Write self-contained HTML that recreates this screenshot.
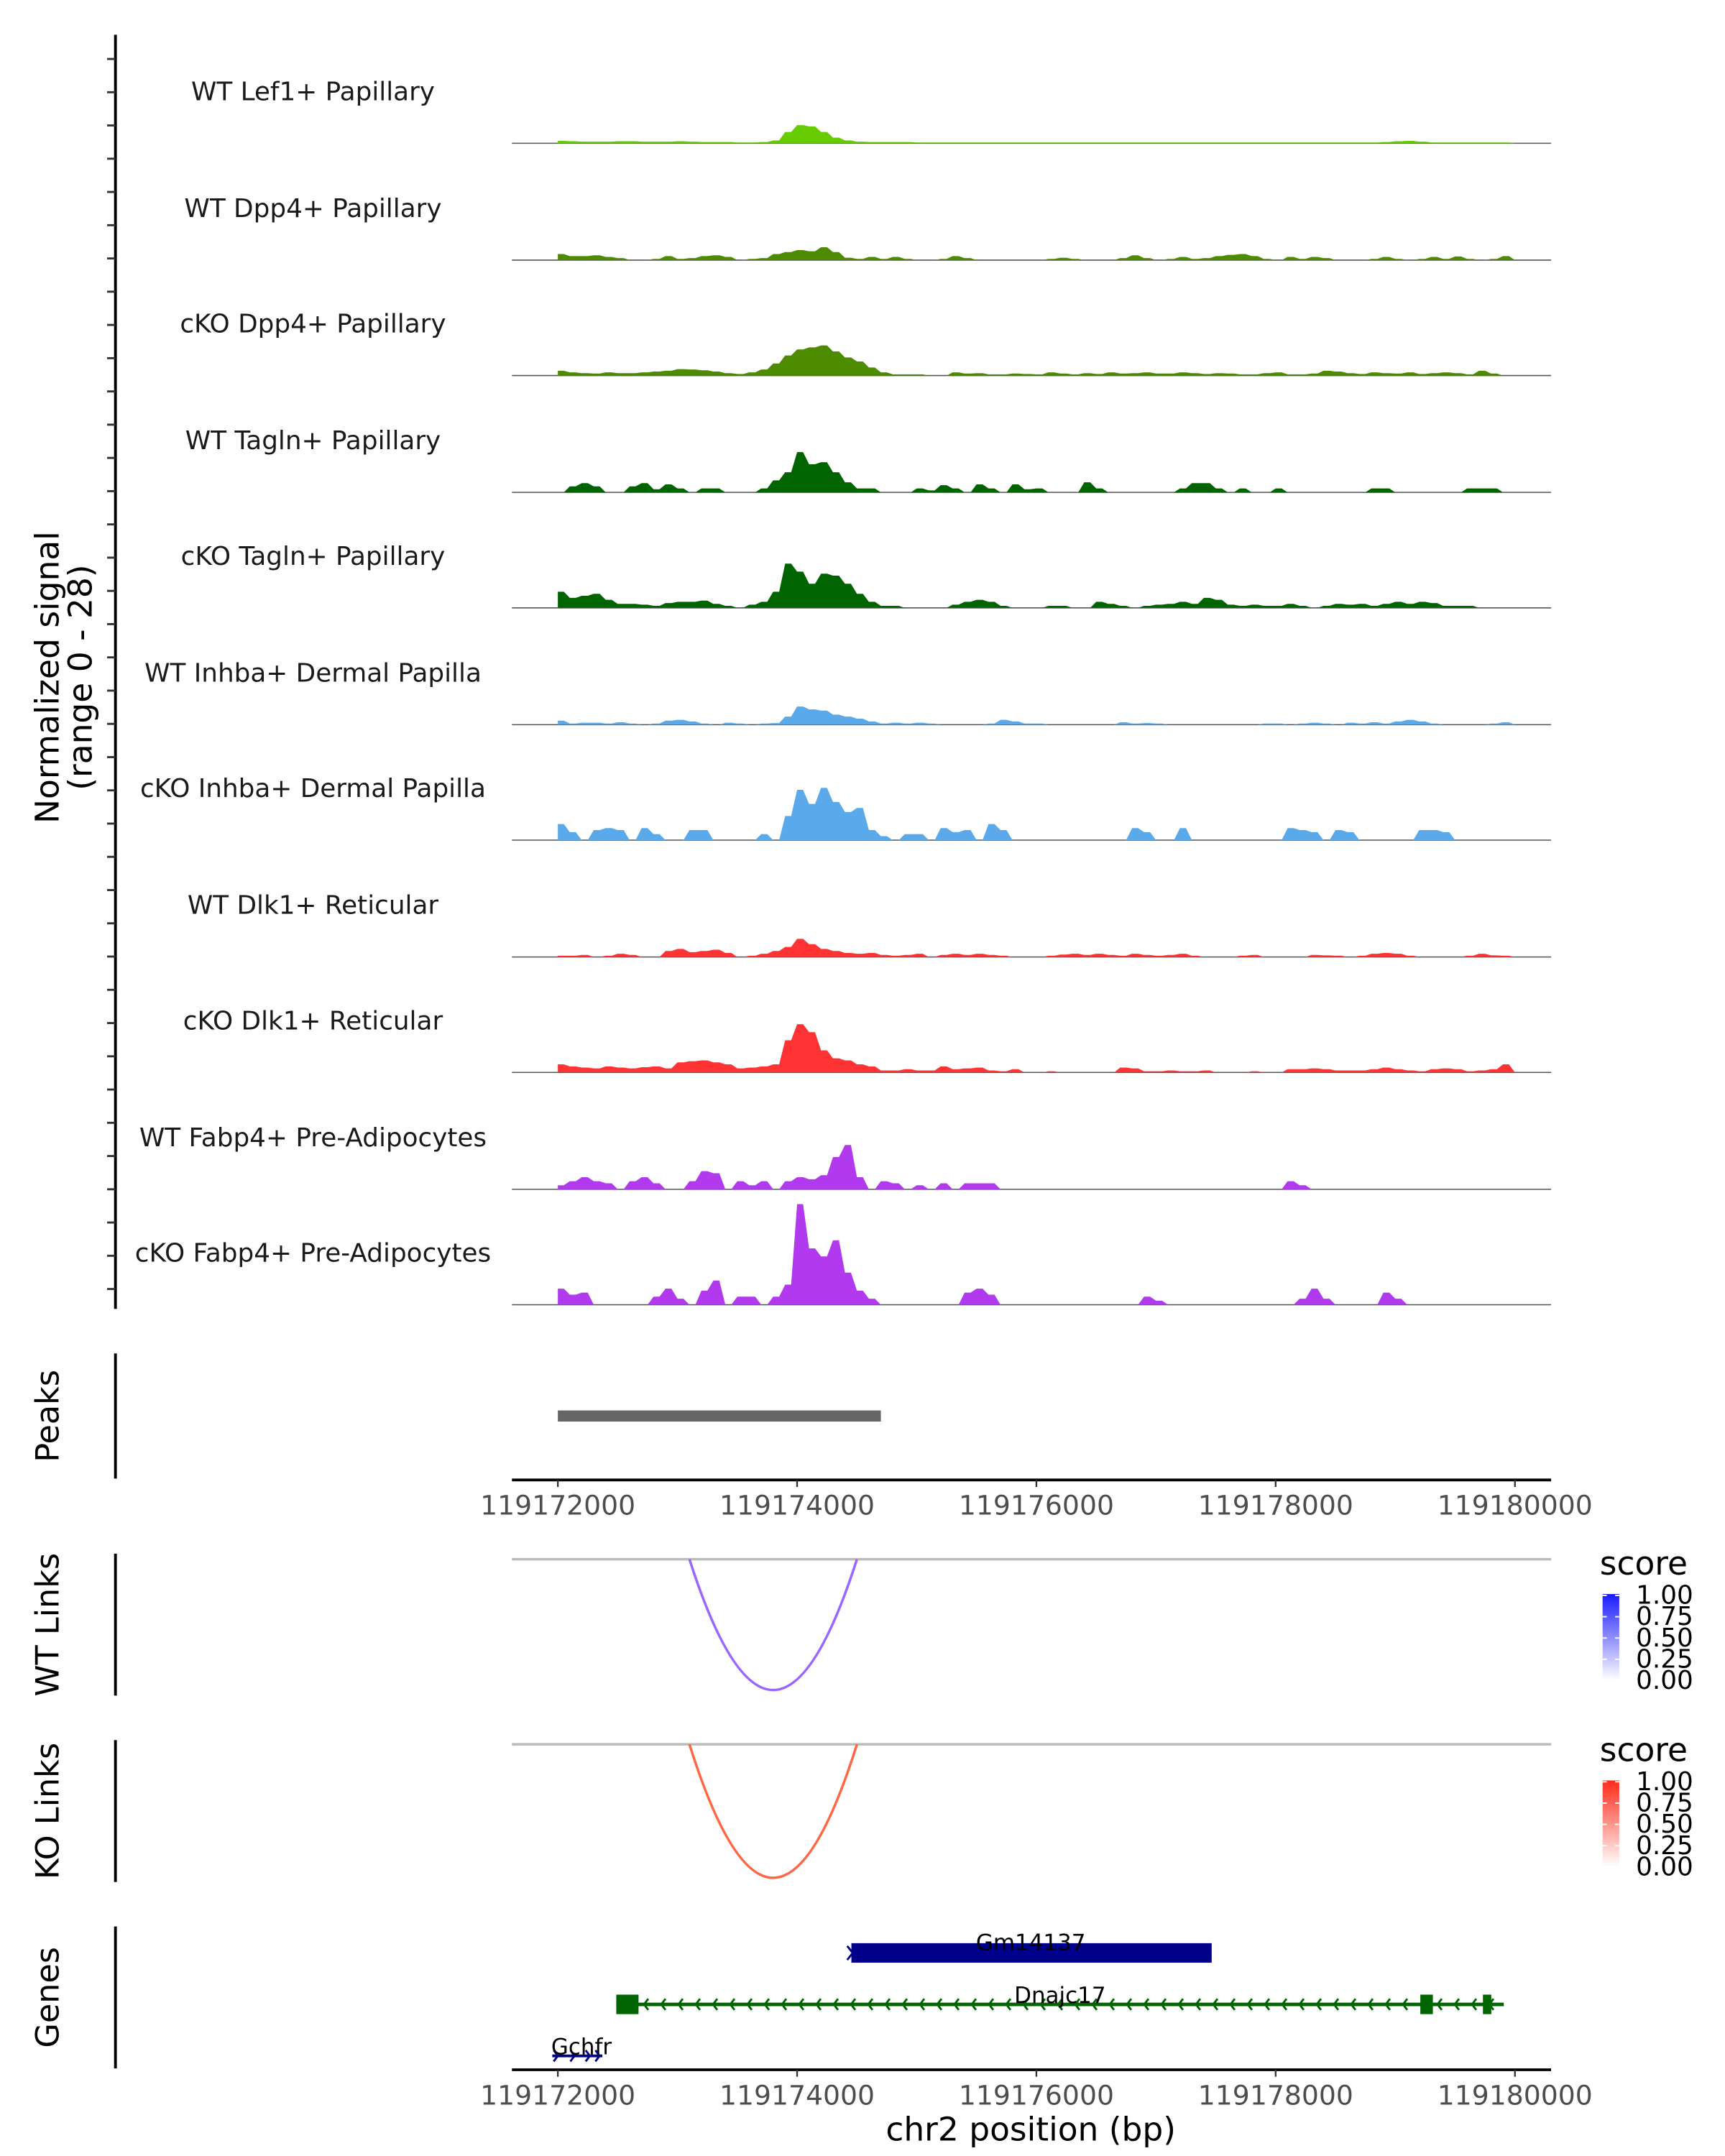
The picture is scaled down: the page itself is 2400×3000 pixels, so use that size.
<!DOCTYPE html>
<html><head><meta charset="utf-8"><style>
html,body{margin:0;padding:0;background:#fff;}
svg{display:block;font-family:"DejaVu Sans","Liberation Sans",sans-serif;}
</style></head><body>
<svg id="chart" width="2400" height="3000" viewBox="0 0 1240 1550" xmlns="http://www.w3.org/2000/svg">
<defs>
<linearGradient id="gBlue" x1="0" y1="1" x2="0" y2="0"><stop offset="0" stop-color="#ffffff"/><stop offset="1" stop-color="#1a1aff"/></linearGradient>
<linearGradient id="gRed" x1="0" y1="1" x2="0" y2="0"><stop offset="0" stop-color="#ffffff"/><stop offset="1" stop-color="#ff2a1a"/></linearGradient>
</defs>
<g id="tracks"></g>
<g id="axes"></g>
</svg>
<script>
const NS='http://www.w3.org/2000/svg';
const trackNames=["WT Lef1+ Papillary","WT Dpp4+ Papillary","cKO Dpp4+ Papillary","WT Tagln+ Papillary","cKO Tagln+ Papillary","WT Inhba+ Dermal Papilla","cKO Inhba+ Dermal Papilla","WT Dlk1+ Reticular","cKO Dlk1+ Reticular","WT Fabp4+ Pre-Adipocytes","cKO Fabp4+ Pre-Adipocytes"];
const trackColors=["#66cc00","#4d8c00","#4d8c00","#006400","#006400","#5aaaeb","#5aaaeb","#ff3333","#ff3333","#b23aee","#b23aee"];
const binStart=119172000, binSize=100;
const lef1=[0.6,0.5,0.4,0.4,0.4,0.5,0.5,0.4,0.4,0.4,0.5,0.4,0.3,0.3,0.3,0.2,0.2,0.3,0.7,2.8,4.5,4.2,2.8,1.4,0.7,0.4,0.3,0.3,0.3,0.3,0.2,0.2,0.2,0.2,0.2,0.2,0.2,0.2,0.2,0.2,0.2,0.2,0.2,0.2,0.2,0.2,0.2,0.2,0.2,0.2,0.2,0.2,0.2,0.2,0.2,0.2,0.2,0.2,0.2,0.2,0.2,0.2,0.2,0.2,0.2,0.2,0.2,0.2,0.2,0.3,0.5,0.6,0.4,0.2,0.2,0.2,0.2,0.2,0.2,0.2];
const dpp4wt=[1.5,1.0,1.0,1.2,0.8,0.5,0,0,0.3,1.0,0.3,0.5,1.0,1.2,0.8,0,0.3,0.5,1.5,2.0,2.5,2.2,3.2,2.0,0.6,0.3,0.8,0.3,0.8,0.3,0,0,0.3,1.0,0.5,0,0,0,0,0,0,0.3,0.6,0.3,0,0,0,0.5,1.2,0.5,0,0.3,0.8,0.3,0.5,1.0,1.3,1.5,1.0,0.3,0,0.8,0.3,0.8,0.5,0,0,0,0.3,0.8,0.3,0,0.3,0.8,0.3,0.9,0.3,0,0.3,1.0];
const dpp4ko=[1.2,0.8,0.6,0.5,0.8,0.6,0.6,0.8,1.0,1.2,1.6,1.5,1.3,1.0,0.6,0.4,0.8,1.5,3.0,5.0,6.5,7.0,7.5,6.0,4.5,3.5,2.0,0.8,0.3,0.3,0.3,0,0,0.8,0.5,0.6,0.3,0.3,0.5,0.4,0.3,0.8,0.5,0.3,0.6,0.4,0.8,0.5,0.6,0.8,0.5,0.5,0.8,0.6,0.4,0.6,0.5,0.3,0.3,0.6,0.8,0.3,0.3,0.5,1.2,1.0,0.6,0.4,0.8,0.6,0.5,0.8,0.4,0.6,0.8,0.6,0.3,1.2,0.5,0];
const taglnwt=[0,1.5,2.3,1.5,0,0,1.5,2.3,0.8,2.0,1.0,0,1.0,1.0,0,0,0,1.0,3.0,5.0,10,7.0,7.5,5.0,2.5,1.0,1.0,0,0,0,1.0,0.5,1.8,1.0,0,2.0,1.0,0,2.0,0.8,1.0,0,0,0,2.5,1.0,0,0,0,0,0,0,1.0,2.3,2.3,1.0,0,1.0,0,0,1.0,0,0,0,0,0,0,0,1.0,1.0,0,0,0,0,0,0,1.0,1.0,1.0,0];
const taglnko=[4.0,2.5,3.0,3.5,2.0,1.0,1.0,0.8,0.5,1.2,1.5,1.5,1.8,1.0,0.5,0,0.8,1.5,4.0,11,9.0,6.0,8.5,8.0,6.0,3.5,1.5,0.5,0.5,0,0,0,0,0.8,1.5,2.0,1.5,0.5,0,0,0,0.5,0.5,0,0,1.5,1.0,0.5,0,0.5,0.8,1.0,1.5,1.0,2.5,2.0,0.8,0.5,0.8,0.5,0.5,1.0,0.5,0,0.5,1.0,0.8,1.0,0.5,1.0,1.5,1.0,1.5,1.2,0.5,0.5,0.5,0,0,0];
const inhbawt=[1.0,0.3,0.5,0.5,0.3,0.6,0.3,0,0.3,1.0,1.2,0.8,0.3,0,0.5,0.3,0,0.3,0.4,2.0,4.5,3.8,3.5,2.5,2.0,1.5,0.8,0.3,0.5,0.3,0.5,0.3,0,0,0,0,0.3,1.2,0.8,0.3,0.3,0,0,0,0,0,0,0.6,0.3,0.4,0.3,0,0,0,0,0,0,0,0,0.3,0.3,0,0.3,0.5,0.3,0,0.5,0.3,0.6,0.3,0.8,1.2,0.8,0.3,0,0,0,0,0.3,0.6];
const inhbako=[4.0,2.0,0,2.5,3.0,2.5,0,3.0,1.5,0,0,2.5,2.5,0,0,0,0,1.5,0,6.0,12.5,9.0,13,9.5,7.0,8.0,2.5,1.0,0,1.5,1.5,0,3.0,2.0,2.5,0,4.0,2.5,0,0,0,0,0,0,0,0,0,0,3.0,2.0,0,0,3.0,0,0,0,0,0,0,0,0,3.0,2.5,2.0,0,2.5,2.0,0,0,0,0,0,2.5,2.5,2.0,0,0,0,0,0];
const dlk1wt=[0.3,0.3,0.5,0,0.3,0.8,0.5,0,0,1.5,2.0,1.2,1.5,1.8,1.0,0,0.3,0.8,1.5,2.5,4.5,3.2,2.0,1.5,1.0,0.8,1.0,0.5,0.3,0.5,0.8,0,0.5,0.8,0.5,0.8,0.5,0.3,0,0,0,0.3,0.6,0.8,0.5,0.8,0.5,0.3,0.8,0.5,0.3,0.5,0.8,0.3,0,0,0,0.3,0.5,0,0,0,0,0.5,0.4,0.3,0,0.3,0.8,1.0,0.8,0.3,0,0,0,0,0.3,0.8,0.4,0.3];
const dlk1ko=[2.0,1.5,1.2,1.0,1.5,1.2,1.0,1.3,1.5,1.0,2.5,2.8,3.0,2.5,2.0,1.0,1.2,1.5,2.0,8.0,12,10,5.5,3.5,3.0,2.0,1.5,0.5,0.5,0.8,0.5,0.5,1.5,0.8,1.0,1.2,0.5,0.3,0.8,0,0,0.3,0,0,0,0,0,1.2,1.0,0.3,0.3,0.5,0.3,0.3,0.5,0,0,0,0.3,0,0,0.8,0.8,1.0,0.8,0.5,0.5,0.5,0.8,1.2,0.8,0.5,0.3,0.8,1.0,0.8,0.3,0.5,0.8,2.0];
const fabp4wt=[1.0,2.0,3.0,2.0,1.5,0,2.0,3.0,1.5,0,0,2.0,4.5,4.0,0,2.0,1.0,2.0,0,2.0,3.0,2.5,3.5,8.0,11,3.0,0,2.0,1.5,0,1.0,0,1.5,0,1.5,1.5,1.5,0,0,0,0,0,0,0,0,0,0,0,0,0,0,0,0,0,0,0,0,0,0,0,0,2.0,1.0,0,0,0,0,0,0,0,0,0,0,0,0,0,0,0,0,0];
const fabp4ko=[4.0,2.5,3.0,0,0,0,0,0,2.0,4.0,1.5,0,3.5,6.0,0,2.0,2.0,0,2.0,5.0,25,14,12,16,8.0,3.5,1.5,0,0,0,0,0,0,0,3.0,4.0,2.5,0,0,0,0,0,0,0,0,0,0,0,0,2.0,1.0,0,0,0,0,0,0,0,0,0,0,0,1.5,4.0,1.5,0,0,0,0,3.0,1.5,0,0,0,0,0,0,0,0,0];
const trackData=[lef1,dpp4wt,dpp4ko,taglnwt,taglnko,inhbawt,inhbako,dlk1wt,dlk1ko,fabp4wt,fabp4ko];
const xTicks=[119172000,119174000,119176000,119178000,119180000];
const peakStarts=[119172000];
const peakEnds=[119174700];
const linkStarts=[119173100];
const linkEnds=[119174500];
const linkScoresWT=[0.6];
const linkScoresKO=[0.6];
const legendTicks=["1.00","0.75","0.50","0.25","0.00"];

function xs(p){return 401+(p-119172000)*0.086;}
const yMax=28, trackH=81;
function ys(v,base){return base-v/yMax*trackH;}
const baselines=[103,187,270,354,437,521,604,688,771,855,938];

const tg=document.getElementById('tracks');
const ag=document.getElementById('axes');
function mk(tag,attrs,parent,txt){const e=document.createElementNS(NS,tag);for(const k in attrs)e.setAttribute(k,attrs[k]);if(txt!==undefined)e.textContent=txt;parent.appendChild(e);return e;}

trackData.forEach((arr,t)=>{
  const base=baselines[t];
  const g=mk('g',{},tg);
  
  
  mk('line',{x1:368,x2:1115,y1:base,y2:base,stroke:'#555',"stroke-width":0.8},g);
  let d='M'+xs(binStart)+','+base;
  arr.forEach((v,i)=>{
    const x0=xs(binStart+i*binSize), x1=xs(binStart+(i+1)*binSize);
    d+=' L'+x0.toFixed(2)+','+ys(v,base).toFixed(2)+' L'+(x0+(x1-x0)*0.5).toFixed(2)+','+ys(v,base).toFixed(2);
  });
  d+=' L'+xs(binStart+arr.length*binSize)+','+base+' Z';
  const p=mk('path',{d:d,fill:trackColors[t],stroke:'none'},g);
  
  
  const lb=mk('text',{x:225,y:base-31,"text-anchor":"middle","font-size":"18.5",fill:"#1a1a1a"},g,trackNames[t]);
  
  
});

// left axis for signal
mk('line',{x1:83,x2:83,y1:25,y2:941,stroke:'#000',"stroke-width":2},ag);
for(let y=42.4;y<940;y+=23.9){mk('line',{x1:77,x2:83,y1:y,y2:y,stroke:'#333',"stroke-width":1.5},ag);}
let yt=mk('text',{x:0,y:0,"text-anchor":"middle","font-size":"23.5",fill:"#000",transform:"translate(42,487) rotate(-90)"},ag,"Normalized signal");


let yt2=mk('text',{x:0,y:0,"text-anchor":"middle","font-size":"23.5",fill:"#000",transform:"translate(66,487) rotate(-90)"},ag,"(range 0 - 28)");



// side panels
function sideAxis(y1,y2,label,cy,name){
  mk('line',{x1:83,x2:83,y1:y1,y2:y2,stroke:'#000',"stroke-width":2},ag);
  const t=mk('text',{x:0,y:0,"text-anchor":"middle","font-size":"23",fill:"#000",transform:"translate(42,"+cy+") rotate(-90)"},ag,label);
  
  
}
sideAxis(973,1063,"Peaks",1018,"peaks-title");
sideAxis(1117,1219,"WT Links",1168,"wt-links-title");
sideAxis(1251,1353,"KO Links",1302,"ko-links-title");
sideAxis(1385,1487,"Genes",1436,"genes-title");

// peaks
peakStarts.forEach((s,i)=>{
  const r=mk('rect',{x:xs(s),y:1014,width:xs(peakEnds[i])-xs(s),height:8,fill:'#666'},ag);
  
  
});

function xAxis(y,name){
  const g=mk('g',{},ag);
  
  
  mk('line',{x1:368,x2:1115,y1:y,y2:y,stroke:'#000',"stroke-width":2},g);
  xTicks.forEach(v=>{
    mk('line',{x1:xs(v),x2:xs(v),y1:y,y2:y+5,stroke:'#333',"stroke-width":1.2},g);
    mk('text',{x:xs(v),y:y+25,"text-anchor":"middle","font-size":"19.5",fill:"#4d4d4d"},g,String(v));
  });
}
xAxis(1064,'x-axis-peaks');
xAxis(1488,'x-axis-genes');
const xt=mk('text',{x:741,y:1539,"text-anchor":"middle","font-size":"23.5",fill:"#000"},ag,"chr2 position (bp)");



// links
function links(base,bottom,scores,colorHi,name){
  mk('line',{x1:368,x2:1115,y1:base,y2:base,stroke:'#bbb',"stroke-width":1.8},ag);
  linkStarts.forEach((s,i)=>{
    const a=xs(s), b=xs(linkEnds[i]);
    const col=colorHi(scores[i]);
    const cy=2*bottom-base;
    const p=mk('path',{d:'M'+a+','+base+' Q'+((a+b)/2)+','+cy+' '+b+','+base,fill:'none',stroke:col,"stroke-width":1.8},ag);
    
    
  });
}
links(1121,1215,linkScoresWT,s=>'#9966ff','wt-link-arc');
links(1254,1350,linkScoresKO,s=>'#ff6644','ko-link-arc');

// legends
function legend(y,grad,name){
  const g=mk('g',{},ag);
  
  
  mk('text',{x:1150,y:y+16,"font-size":"23.5",fill:"#000"},g,"score");
  mk('rect',{x:1152,y:y+30,width:12,height:62,fill:'url(#'+grad+')'},g);
  legendTicks.forEach((l,i)=>{
    const ty=y+31+i*15.3;
    mk('line',{x1:1152,x2:1155,y1:ty,y2:ty,stroke:'#fff'},g);
    mk('line',{x1:1161,x2:1164,y1:ty,y2:ty,stroke:'#fff'},g);
    mk('text',{x:1176,y:ty+6,"font-size":"18.5",fill:"#000"},g,l);
  });
}
legend(1116,'gBlue','wt-score-legend');
legend(1250,'gRed','ko-score-legend');

// genes
const gg=mk('g',{},ag);


let gm=mk('rect',{x:612,y:1397,width:259,height:14,fill:'#00008b'},gg);


mk('path',{d:'M609,1399 L613,1404 L609,1409',fill:'none',stroke:'#00008b',"stroke-width":1.5},gg);
mk('text',{x:741,y:1402,"text-anchor":"middle","font-size":"16",fill:"#000"},gg,"Gm14137");
let dn=mk('line',{x1:443,x2:1081,y1:1441,y2:1441,stroke:'#006400',"stroke-width":2.5},gg);


mk('rect',{x:443,y:1434,width:16,height:14,fill:'#006400'},gg);
mk('rect',{x:1021,y:1434,width:9,height:14,fill:'#006400'},gg);
mk('rect',{x:1066,y:1434,width:6,height:14,fill:'#006400'},gg);
for(let x=463;x<1078;x+=12.4){mk('path',{d:'M'+(x+3)+',1437 L'+x+',1441 L'+(x+3)+',1445',fill:'none',stroke:'#006400',"stroke-width":1.5},gg);}
mk('text',{x:762,y:1440,"text-anchor":"middle","font-size":"16",fill:"#000"},gg,"Dnajc17");
let gc=mk('line',{x1:397,x2:433,y1:1478,y2:1478,stroke:'#00008b',"stroke-width":2},gg);


[398,410,421,428].forEach(x=>mk('path',{d:'M'+x+',1474 L'+(x+3)+',1478 L'+x+',1482',fill:'none',stroke:'#00008b',"stroke-width":1.5},gg));
mk('text',{x:418,y:1477,"text-anchor":"middle","font-size":"16",fill:"#000"},gg,"Gchfr");
</script>
</body></html>
